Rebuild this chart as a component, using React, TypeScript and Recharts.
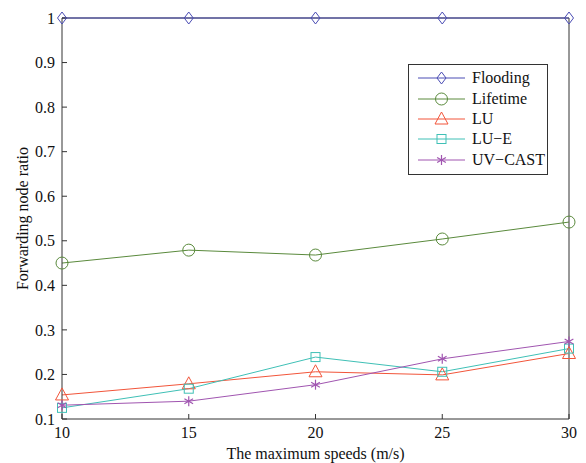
import React from 'react';
import { LineChart, Line, XAxis, YAxis, ReferenceLine } from 'recharts';

const speeds = [10, 15, 20, 25, 30];
const flooding = [1, 1, 1, 1, 1];
const lifetime = [0.45, 0.479, 0.468, 0.504, 0.542];
const lu = [0.154, 0.179, 0.206, 0.199, 0.247];
const luE = [0.125, 0.168, 0.239, 0.206, 0.258];
const uvCast = [0.131, 0.14, 0.177, 0.235, 0.274];
const yTicks = [0.1, 0.2, 0.3, 0.4, 0.5, 0.6, 0.7, 0.8, 0.9, 1];

const data = speeds.map((s, i) => ({
  speed: s,
  flooding: flooding[i],
  lifetime: lifetime[i],
  lu: lu[i],
  luE: luE[i],
  uvCast: uvCast[i],
}));

type Shape = 'diamond' | 'circle' | 'triangle' | 'square' | 'star';

const SERIES: { key: string; name: string; color: string; shape: Shape }[] = [
  { key: 'flooding', name: 'Flooding', color: '#4a4cb4', shape: 'diamond' },
  { key: 'lifetime', name: 'Lifetime', color: '#5a8a3c', shape: 'circle' },
  { key: 'lu', name: 'LU', color: '#f2553a', shape: 'triangle' },
  { key: 'luE', name: 'LU\u2212E', color: '#3fc0b6', shape: 'square' },
  { key: 'uvCast', name: 'UV\u2212CAST', color: '#a055b0', shape: 'star' },
];

const FONT = '"Liberation Serif", "DejaVu Serif", serif';

const Marker = ({ cx, cy, shape, color }: { cx: number; cy: number; shape: Shape; color: string }) => {
  if (cx == null || cy == null) return null;
  if (shape === 'diamond')
    return <path d={`M${cx},${cy - 6}L${cx + 4.5},${cy}L${cx},${cy + 6}L${cx - 4.5},${cy}Z`} fill="none" stroke={color} strokeWidth={1} />;
  if (shape === 'circle') return <circle cx={cx} cy={cy} r={6} fill="none" stroke={color} strokeWidth={1} />;
  if (shape === 'triangle')
    return <path d={`M${cx},${cy - 7}L${cx + 6.5},${cy + 5}L${cx - 6.5},${cy + 5}Z`} fill="none" stroke={color} strokeWidth={1} />;
  if (shape === 'square') return <rect x={cx - 4.5} y={cy - 4.5} width={9} height={9} fill="none" stroke={color} strokeWidth={1} />;
  const r = 5;
  return (
    <g stroke={color} strokeWidth={1.2}>
      <line x1={cx} y1={cy - r} x2={cx} y2={cy + r} />
      <line x1={cx - r * 0.87} y1={cy - r * 0.5} x2={cx + r * 0.87} y2={cy + r * 0.5} />
      <line x1={cx - r * 0.87} y1={cy + r * 0.5} x2={cx + r * 0.87} y2={cy - r * 0.5} />
    </g>
  );
};

const LegendBox = () => (
  <div
    style={{
      position: 'absolute',
      left: 408,
      top: 64,
      width: 138,
      height: 106,
      border: '1px solid #333',
      background: '#fff',
      fontFamily: FONT,
      fontSize: 16,
      color: '#111',
      boxSizing: 'content-box',
      paddingTop: 3,
    }}
  >
    {SERIES.map((s) => (
      <div key={s.key} style={{ display: 'flex', alignItems: 'center', height: 20.4 }}>
        <svg width={48} height={20} style={{ marginLeft: 9, flex: 'none' }}>
          <line x1={0} y1={10} x2={47} y2={10} stroke={s.color} strokeWidth={1} />
          <Marker cx={23.5} cy={10} shape={s.shape} color={s.color} />
        </svg>
        <span style={{ marginLeft: 6, whiteSpace: 'nowrap' }}>{s.name}</span>
      </div>
    ))}
  </div>
);

export default function App() {
  return (
    <div style={{ position: 'absolute', left: 0, top: 0, width: 586, height: 463, background: '#fff' }}>
      <LineChart width={586} height={463} data={data} margin={{ top: 18, right: 17, bottom: 0, left: 0 }}>
        <XAxis
          dataKey="speed"
          type="number"
          domain={[10, 30]}
          ticks={speeds}
          height={44}
          stroke="#333"
          tickSize={-5}
          tickMargin={13}
          tick={{ fill: '#111', fontSize: 16, fontFamily: FONT }}
          label={{ value: 'The maximum speeds (m/s)', position: 'insideBottom', offset: 4, fill: '#111', fontSize: 16, fontFamily: FONT }}
        />
        <YAxis
          type="number"
          domain={[0.1, 1]}
          ticks={yTicks}
          width={62}
          stroke="#333"
          tickSize={-5}
          tickMargin={12}
          tickFormatter={(v: number) => String(Math.round(v * 10) / 10)}
          tick={{ fill: '#111', fontSize: 16, fontFamily: FONT }}
          label={{ value: 'Forwarding node ratio', angle: -90, position: 'insideLeft', offset: 22, fill: '#111', fontSize: 16, fontFamily: FONT, style: { textAnchor: 'middle' } }}
        />
        <YAxis
          yAxisId="r"
          orientation="right"
          type="number"
          domain={[0.1, 1]}
          ticks={yTicks}
          width={0}
          stroke="#333"
          tickSize={-5}
          tick={false}
        />
        <ReferenceLine y={1} stroke="#333" />
        <ReferenceLine x={30} stroke="#333" />
        {SERIES.map((s) => (
          <Line
            key={s.key}
            dataKey={s.key}
            name={s.name}
            stroke={s.color}
            strokeWidth={1}
            isAnimationActive={false}
            dot={(p: any) => <Marker key={`${s.key}-${p.index}`} cx={p.cx} cy={p.cy} shape={s.shape} color={s.color} />}
            activeDot={false}
          />
        ))}
      </LineChart>
      <LegendBox />
    </div>
  );
}
